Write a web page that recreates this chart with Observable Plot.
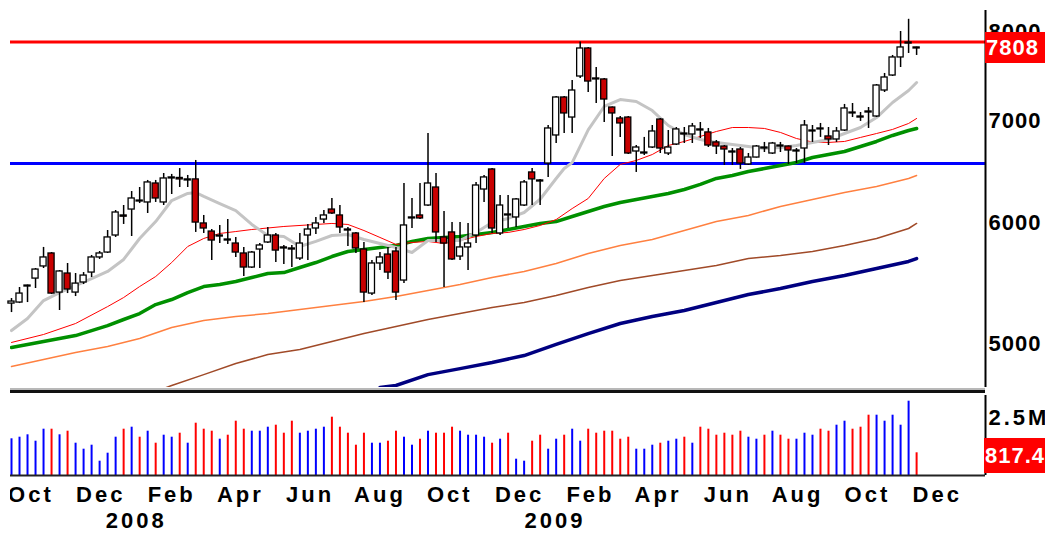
<!DOCTYPE html>
<html><head><meta charset="utf-8">
<script src="https://cdn.jsdelivr.net/npm/d3@7"></script>
<script src="https://cdn.jsdelivr.net/npm/@observablehq/plot@0.6"></script>
<style>
body{margin:0;background:#fff;}
#wrap{position:relative;width:1045px;height:537px;overflow:hidden;font-family:"Liberation Sans",Arial,sans-serif;background:#fff;}
#main{position:absolute;left:0;top:0;}
#volClip{position:absolute;left:10px;top:390px;width:1035px;height:147px;overflow:hidden;}
#vol{position:absolute;left:-10px;top:0;}
.tag{position:absolute;background:#ff0000;color:#fff;font-weight:bold;font-size:22px;letter-spacing:1px;white-space:nowrap;padding-left:1px;box-sizing:border-box;}
.sep{position:absolute;left:10px;width:975px;}
</style></head><body>
<div id="wrap"><div id="main"></div><div id="volClip"><div id="vol"></div></div></div>
<script>
// ---- weekly candles (Fri week ending), starting 14 Sep 2007 ----
const firstWeek = "2007-09-14";
const open  = [5263,5271,5400,5465,5566,5676,5351,5507,5351,5433,5515,5642,5684,5832,6011,6065,6148,6130,6308,6130,6356,6361,6337,6347,5939,5867,5823,5797,5762,5676,5557,5710,5771,5832,5728,5719,5633,5832,5894,5974,6065,6011,5885,5850,5710,5343,5591,5667,5693,5449,5984,6011,6102,6270,5815,5859,5650,5728,5832,6251,6443,5850,6020,5993,6102,6414,6337,6501,6782,7182,6968,7413,7733,7391,7380,7074,6958,6968,6620,6600,6660,6947,6600,6690,6802,6792,6844,6813,6711,6670,6620,6640,6492,6560,6660,6600,6680,6670,6620,6650,6823,6854,6772,6741,6833,7021,6979,7032,6979,7258,7424,7629,7791,7745];
const high  = [5303,5392,5412,5549,5728,5684,5532,5591,5507,5515,5659,5693,5876,6056,6102,6232,6270,6337,6337,6404,6395,6452,6385,6531,6011,5885,5921,5974,5815,5728,5693,5762,5903,5850,5745,5745,5850,5930,5993,6056,6167,6102,5903,5859,5771,5616,5684,5728,5728,6308,6167,6308,6802,6404,6047,5947,5947,5939,6318,6385,6452,6195,6195,6167,6337,6452,6347,6885,7193,7193,7368,7808,7745,7514,7391,7080,6979,6979,6680,6762,6885,6958,6833,6864,6864,6906,6916,6854,6731,6680,6650,6660,6600,6680,6711,6711,6711,6675,6650,6937,6885,6906,6864,6864,7107,7117,7021,7074,7324,7447,7652,7934,8081,7748];
const low   = [5192,5263,5271,5384,5549,5335,5208,5343,5319,5416,5474,5625,5676,5815,5930,5823,6120,6029,6130,6102,6204,6270,6270,5859,5850,5616,5762,5754,5642,5482,5549,5549,5762,5599,5582,5557,5616,5616,5841,5939,6020,5850,5736,5676,5271,5327,5532,5457,5287,5424,5894,5974,6093,5771,5392,5616,5616,5532,5762,6130,5850,5832,5894,5903,6093,6102,6102,6366,6700,6802,6802,7391,7236,7117,6916,6570,6762,6590,6414,6580,6650,6600,6580,6680,6700,6700,6751,6660,6590,6482,6482,6443,6482,6555,6610,6590,6610,6492,6501,6501,6711,6762,6680,6711,6823,6968,6927,6854,6968,7236,7413,7514,7675,7652];
const close = [5279,5343,5408,5540,5642,5343,5524,5376,5424,5490,5642,5676,5815,6038,6000,6167,6139,6318,6167,6356,6366,6347,6347,5947,5894,5788,5832,5788,5684,5557,5684,5745,5832,5701,5719,5710,5762,5885,5939,6011,6029,5903,5876,5719,5351,5591,5642,5515,5351,5921,5993,5984,6308,5859,5762,5625,5728,5762,6289,6366,5894,6102,6011,6158,6318,6347,6327,6854,7182,7011,7258,7733,7357,7380,7160,7011,6906,6600,6660,6610,6823,6650,6660,6844,6792,6875,6833,6680,6670,6640,6610,6501,6560,6670,6650,6700,6670,6630,6630,6885,6833,6844,6741,6823,7064,7011,6968,7021,7313,7402,7629,7745,7803,7733];
// weekly volume, thousands
const volume = [1321,1379,1465,1235,1667,1667,1465,1595,1163,947,1091,515,803,1379,1667,1739,1379,1595,1163,1451,1379,1523,1163,1883,1667,1595,1307,1451,1955,1667,1595,1595,1739,1811,1523,1955,1523,1595,1667,1739,2099,1739,1523,1091,1523,1163,1163,1235,1595,1379,1091,1307,1595,1523,1523,1739,1595,1451,1451,1379,1163,1307,1523,587,515,1235,1451,947,1307,1451,1667,1235,1667,1523,1595,1595,1307,1379,947,947,1091,1163,1235,1307,1379,1163,1739,1667,1451,1523,1451,1595,1379,1307,1451,1595,1451,1307,1307,1523,1451,1667,1595,1811,1955,1667,1739,2171,2171,1955,2171,1811,2675,817.4];

// moving averages (week index -> value)
const grayIdx = [0,2,4,6,8,10,12,14,16,18,20,22,23,24,26,28,30,32,34,36,38,40,42,44,46,48,50,52,54,56,58,60,62,64,66,68,69,70,72,74,76,78,80,82,84,86,88,90,92,94,96,98,100,102,104,106,108,110,112,113];
const grayVal = [5053,5146,5287,5351,5408,5465,5524,5625,5806,5956,6148,6214,6223,6186,6120,6056,5930,5832,5823,5736,5780,5832,5841,5797,5762,5728,5684,5788,5788,5788,5859,5947,5984,6038,6160,6356,6452,6510,6840,7085,7160,7139,7042,6885,6792,6741,6711,6690,6670,6650,6660,6680,6711,6741,6802,6864,6968,7128,7258,7346];
const redIdx = [0,4,8,12,14,16,18,20,22,24,26,28,30,34,38,40,42,44,46,48,50,52,54,56,58,60,62,64,66,68,70,72,74,76,78,80,82,84,86,88,90,92,94,96,98,100,102,104,106,108,110,112,113];
const redVal = [4963,5023,5107,5239,5311,5400,5482,5599,5736,5806,5850,5867,5885,5912,5930,5939,5930,5876,5815,5754,5771,5780,5762,5788,5823,5850,5859,5885,5921,5974,6074,6167,6356,6492,6531,6590,6680,6721,6772,6823,6864,6864,6854,6813,6751,6715,6711,6721,6762,6802,6844,6906,6958];
const greenIdx = [0,4,8,10,12,14,16,18,20,22,24,26,28,30,32,34,36,38,40,42,44,46,48,50,52,54,56,58,60,62,64,66,68,70,72,74,76,78,80,82,84,86,88,90,92,94,96,98,100,102,104,106,108,110,112,113];
const greenVal = [4925,4970,5015,5053,5091,5138,5184,5255,5295,5351,5400,5416,5441,5474,5507,5515,5557,5599,5650,5693,5710,5728,5745,5780,5806,5815,5823,5841,5859,5885,5912,5939,5956,6002,6047,6093,6130,6158,6186,6214,6251,6299,6356,6385,6423,6452,6482,6511,6560,6590,6620,6670,6721,6782,6833,6854];
const orangeIdx = [0,4,8,12,16,20,24,28,32,36,40,44,48,52,56,60,64,68,72,76,80,84,88,92,96,100,104,108,112,113];
const orangeVal = [4786,4837,4888,4933,4993,5076,5130,5161,5184,5216,5247,5279,5319,5368,5416,5474,5524,5591,5676,5745,5797,5876,5956,6011,6093,6158,6223,6280,6356,6385];
const brownIdx = [19,20,24,28,32,36,40,44,48,52,56,60,64,68,72,76,80,84,88,92,96,100,104,108,112,113];
const brownVal = [4630,4651,4728,4808,4873,4910,4970,5030,5084,5138,5184,5231,5271,5327,5392,5449,5490,5532,5574,5633,5659,5693,5745,5806,5894,5939];
const navyIdx = [46,48,52,56,60,64,68,72,76,80,84,88,92,96,100,104,108,112,113];
const navyVal = [4637,4651,4728,4771,4815,4866,4948,5030,5107,5161,5208,5271,5335,5384,5441,5490,5549,5608,5633];

// reference lines
const resistance = 7808;
const support = 6500;

// axis labels
const priceTicks = [5000, 6000, 7000, 8000];
const volTick = 2500, volTickLabel = "2.5M";
const lastVolLabel = "817.4";
const monthTickDates = ["2007-10-01","2007-12-01","2008-02-01","2008-04-01","2008-06-01","2008-08-01","2008-10-01","2008-12-01","2009-02-01","2009-04-01","2009-06-01","2009-08-01","2009-10-01","2009-12-01"];
const monthTickLabels = ["Oct","Dec","Feb","Apr","Jun","Aug","Oct","Dec","Feb","Apr","Jun","Aug","Oct","Dec"];
const yearTickDates = ["2008-01-01","2009-01-01"];
const yearTickLabels = ["2008","2009"];

// ---- build tables ----
const start = new Date(firstWeek + "T00:00:00Z");
const weekDate = i => d3.utcDay.offset(start, 7 * i);
const candles = open.map((o, i) => ({date: weekDate(i), open: o, high: high[i], low: low[i], close: close[i], volume: volume[i]}));
const series = (idx, val) => idx.map((k, j) => ({date: weekDate(k), value: val[j]}));
const xDomain = [new Date(Date.UTC(2007, 8, 13, 3)), new Date(Date.UTC(2010, 0, 12, 5))];
const yDomain = [4637, 8189];
const FONT = "Liberation Sans, Arial, sans-serif";
const isDown = d => d.close < d.open;

const main = Plot.plot({
  width: 1045, height: 390,
  marginLeft: 10, marginRight: 60, marginTop: 10, marginBottom: 3,
  x: {type: "utc", domain: xDomain, axis: null},
  y: {type: "log", domain: yDomain, axis: null},
  style: {background: "transparent", overflow: "visible", letterSpacing: "1px"},
  marks: [
    Plot.ruleY([resistance], {stroke: "#ff0000", strokeWidth: 3}),
    Plot.ruleY([support], {stroke: "#0000ff", strokeWidth: 3}),
    Plot.line(series(navyIdx, navyVal), {x: "date", y: "value", stroke: "#000080", strokeWidth: 3.5, clip: true}),
    Plot.line(series(brownIdx, brownVal), {x: "date", y: "value", stroke: "#a04a28", strokeWidth: 1.5, clip: true}),
    Plot.line(series(orangeIdx, orangeVal), {x: "date", y: "value", stroke: "#ff8040", strokeWidth: 1.5, clip: true}),
    Plot.line(series(greenIdx, greenVal), {x: "date", y: "value", stroke: "#009000", strokeWidth: 3.5, clip: true}),
    Plot.line(series(redIdx, redVal), {x: "date", y: "value", stroke: "#ff0000", strokeWidth: 1, clip: true}),
    Plot.line(series(grayIdx, grayVal), {x: "date", y: "value", stroke: "#c4c4c4", strokeWidth: 3, clip: true}),
    Plot.ruleX(candles, {x: "date", y1: "low", y2: "high", stroke: "black", strokeWidth: 1.5}),
    Plot.rect(candles, {
      x1: d => d3.utcHour.offset(d.date, -64), x2: d => d3.utcHour.offset(d.date, 64),
      y1: "open", y2: "close",
      fill: d => isDown(d) ? "#c80000" : "#ffffff", stroke: "black", strokeWidth: 1.3
    }),
    Plot.ruleX([xDomain[1]], {stroke: "black", strokeWidth: 2}),
    Plot.text(priceTicks, {y: d => d, text: d => String(d), frameAnchor: "right", textAnchor: "start",
      dx: 3, dy: 6, fontSize: 22, fontWeight: "bold", fontFamily: FONT, fill: "black"})
  ]
});
document.getElementById("main").appendChild(main);

const vol = Plot.plot({
  width: 1045, height: 147,
  marginLeft: 10, marginRight: 60, marginTop: 5, marginBottom: 62,
  x: {type: "utc", domain: xDomain, axis: null},
  y: {domain: [0, 2880], axis: null},
  style: {background: "transparent", overflow: "visible", letterSpacing: "3px"},
  marks: [
    Plot.ruleX(candles, {x: "date", y1: 0, y2: "volume", stroke: d => isDown(d) ? "#ff0000" : "#0000ff", strokeWidth: 2}),
    Plot.ruleY([0], {stroke: "#222", strokeWidth: 2}),
    Plot.ruleX([xDomain[1]], {stroke: "black", strokeWidth: 2}),
    Plot.text([volTick], {y: d => d, text: [volTickLabel], frameAnchor: "right", textAnchor: "start",
      dx: 3, dy: 12, fontSize: 22, fontWeight: "bold", fontFamily: FONT, fill: "black"}),
    Plot.text(monthTickDates.map(s => new Date(s + "T00:00:00Z")), {x: d => d, text: monthTickLabels, frameAnchor: "bottom",
      dy: 26, fontSize: 22, fontWeight: "bold", fontFamily: FONT, fill: "black"}),
    Plot.text(yearTickDates.map(s => new Date(s + "T00:00:00Z")), {x: d => d, text: yearTickLabels, frameAnchor: "bottom",
      dy: 52, fontSize: 22, fontWeight: "bold", fontFamily: FONT, fill: "black"})
  ]
});
document.getElementById("vol").appendChild(vol);

// panel separator
const wrap = document.getElementById("wrap");
function addDiv(cls, css, text) {
  const d = document.createElement("div"); d.className = cls; Object.assign(d.style, css);
  if (text != null) d.textContent = text; wrap.appendChild(d); return d;
}
addDiv("sep", {top: "388px", height: "2px", background: "#b8b8b8"});
addDiv("sep", {top: "390px", height: "3px", background: "#111"});

// value tags
function scaleY(chart, fallback) {
  try { const s = chart.scale("y"); if (s && typeof s.apply === "function") return v => s.apply(v); } catch (e) {}
  return fallback;
}
const yMain = scaleY(main, d3.scaleLog().domain(yDomain).range([387, 10]));
const yVol = scaleY(vol, d3.scaleLinear().domain([0, 2880]).range([85, 5]));
const cMain = yMain(resistance) + 6;
addDiv("tag", {left: "985px", top: (cMain - 15.5) + "px", height: "31px", lineHeight: "31px", width: "80px"}, String(resistance));
const cVol = 390 + yVol(volume[volume.length - 1]) + 3;
addDiv("tag", {left: "984px", top: (cVol - 17.5) + "px", height: "35px", lineHeight: "35px", width: "80px"}, lastVolLabel);
</script>
</body></html>
